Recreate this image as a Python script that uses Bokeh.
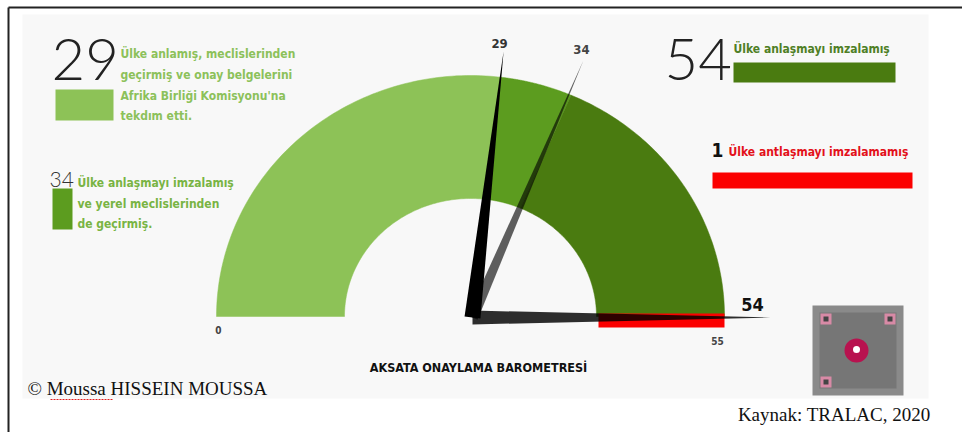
import numpy as np
from bokeh.plotting import figure
from bokeh.models import Range1d
from bokeh.core.properties import value
from bokeh.embed import file_html
from bokeh.resources import INLINE

# ---------------- data ----------------
total_countries = 55
segment_names = ["Onaylayıp belgelerini sunan", "Meclisten geçiren", "İmzalayan", "İmzalamayan"]
segment_start = [0, 29, 34, 54]
segment_end = [29, 34, 54, 55]
needle_values = [29, 34, 54]
needle_labels = ["29", "34", "54"]
scale_values = [0, 55]
scale_labels = ["0", "55"]
legend_counts = ["29", "34", "54", "1"]
legend_text_29 = ["Ülke anlamış, meclislerinden", "geçirmiş ve onay belgelerini",
                  "Afrika Birliği Komisyonu'na", "tekdım etti."]
legend_text_34 = ["Ülke anlaşmayı imzalamış", "ve yerel meclislerinden", "de geçirmiş."]
legend_text_54 = ["Ülke anlaşmayı imzalamış"]
legend_text_1 = ["Ülke antlaşmayı imzalamamış"]
title_text = "AKSATA ONAYLAMA BAROMETRESİ"
author_text = "© Moussa HISSEIN MOUSSA"
source_text = "Kaynak: TRALAC, 2020"

# ---------------- style ----------------
C_LIGHT = "#8dc257"
C_MED = "#5c9c1f"
C_DARK = "#4a7b10"
C_RED = "#fb0000"
seg_colors = [C_LIGHT, C_MED, C_DARK, C_RED]
NARROW = value("DejaVu Sans Condensed")
SERIF = value("Liberation Serif")
BIG = value("Lato Light")

W, H = 962, 432
p = figure(width=W, height=H, output_backend="svg", toolbar_location=None,
           x_range=Range1d(0, W), y_range=Range1d(H, 0),
           min_border=0, background_fill_color="white", border_fill_color="white")
p.axis.visible = False
p.grid.visible = False
p.outline_line_color = None

# page frame + panel
p.quad(left=[22], right=[928], top=[14], bottom=[398], fill_color="#f8f8f8", line_color=None)
p.segment(x0=[8], y0=[7], x1=[W], y1=[7], line_color="#222222", line_width=2)
p.segment(x0=[8], y0=[7], x1=[8], y1=[H], line_color="#222222", line_width=2)

# ---------------- gauge ----------------
cx, cy = 470, 316
rx_out, ry_out, rx_in, ry_in = 254, 241, 126, 118
gauge_full = segment_end[2]


def theta(v):
    return np.pi * (1 - v / gauge_full)


xs, ys = [], []
for a, b in zip(segment_start[:3], segment_end[:3]):
    t = np.linspace(theta(a), theta(b), 90)
    xo = cx + rx_out * np.cos(t)
    yo = cy - ry_out * np.sin(t)
    xi = cx + rx_in * np.cos(t[::-1])
    yi = cy - ry_in * np.sin(t[::-1])
    xs.append(list(np.concatenate([xo, xi])))
    ys.append(list(np.concatenate([yo, yi])))
p.patches(xs, ys, fill_color=seg_colors[:3], line_color=seg_colors[:3], line_width=0.5)

# not-signed segment (below the baseline)
red_h = 14 * (segment_end[3] - segment_start[3])
p.quad(left=[cx + rx_in + 2], right=[cx + rx_out], top=[cy - 3], bottom=[cy - 3 + red_h],
       fill_color=C_RED, line_color=None)

# scale labels
p.text(x=[cx - rx_out + 2, cx + rx_out - 7], y=[329, 340], text=scale_labels,
       text_font=NARROW, text_font_style="bold", text_font_size="10px",
       text_color="#444444", text_align="center", text_baseline="middle")

# needles
px, py = 472, 317
needle_len = [268, 280, 298]
needle_w = [16, 11, 14]
needle_alpha = [1.0, 0.62, 0.82]
label_off = [(-4, -8), (-2, -11), (-18, -13)]
label_size = ["13px", "13px", "18px"]
label_color = ["#333333", "#444444", "#111111"]
nxs, nys, lx, ly = [], [], [], []
for v, L, w, (dx, dy) in zip(needle_values, needle_len, needle_w, label_off):
    t = theta(v)
    ux, uy = np.cos(t), -np.sin(t)
    nx, ny = -uy, ux
    tipx, tipy = px + L * ux, py + L * uy
    nxs.append([px + nx * w / 2, tipx, px - nx * w / 2])
    nys.append([py + ny * w / 2, tipy, py - ny * w / 2])
    lx.append(tipx + dx)
    ly.append(tipy + dy)
p.patches(nxs, nys, fill_color="black", fill_alpha=needle_alpha, line_color=None)
for i in range(3):
    p.text(x=[lx[i]], y=[ly[i]], text=[needle_labels[i]], text_font=NARROW,
           text_font_style="bold", text_font_size=label_size[i], text_color=label_color[i],
           text_align="center", text_baseline="middle")

# title
p.text(x=[478], y=[367], text=[title_text], text_font=NARROW, text_font_style="bold",
       text_font_size="12.5px", text_color="#111111", text_align="center", text_baseline="middle")

# ---------------- legends ----------------
# 29
p.text(x=[51], y=[59], text=[legend_counts[0]], text_font=BIG, text_font_size="58px",
       text_color="#222222", text_align="left", text_baseline="middle")
p.quad(left=[55], right=[113], top=[89], bottom=[120], fill_color=C_LIGHT, line_color=None)
p.text(x=[120] * 4, y=[53, 74, 95, 115], text=legend_text_29, text_font=NARROW,
       text_font_style="bold", text_font_size="12px", text_color="#8cc15a",
       text_align="left", text_baseline="middle")
# 34
p.text(x=[49], y=[179], text=[legend_counts[1]], text_font=BIG, text_font_size="21px",
       text_color="#333333", text_align="left", text_baseline="middle")
p.quad(left=[52], right=[72], top=[188], bottom=[229], fill_color=C_MED, line_color=None)
p.text(x=[77] * 3, y=[182, 203, 223], text=legend_text_34, text_font=NARROW,
       text_font_style="bold", text_font_size="12px", text_color="#78b443",
       text_align="left", text_baseline="middle")
# 54
p.text(x=[664], y=[59], text=[legend_counts[2]], text_font=BIG, text_font_size="58px",
       text_color="#222222", text_align="left", text_baseline="middle")
p.quad(left=[733], right=[895], top=[62], bottom=[82], fill_color=C_DARK, line_color=None)
p.text(x=[733], y=[48], text=legend_text_54, text_font=NARROW, text_font_style="bold",
       text_font_size="12px", text_color="#4f7f25", text_align="left", text_baseline="middle")
# 1
p.text(x=[711], y=[149], text=[legend_counts[3]], text_font=NARROW, text_font_style="bold",
       text_font_size="19px", text_color="#111111", text_align="left", text_baseline="middle")
p.quad(left=[712], right=[912], top=[172], bottom=[188], fill_color=C_RED, line_color=None)
p.text(x=[728], y=[151], text=legend_text_1, text_font=NARROW, text_font_style="bold",
       text_font_size="12px", text_color="#e3101a", text_align="left", text_baseline="middle")

# ---------------- QR code block ----------------
p.quad(left=[812], right=[903], top=[305], bottom=[395], fill_color="#8a8a8a", line_color=None)
p.quad(left=[819], right=[896], top=[312], bottom=[388], fill_color="#767676", line_color=None)
p.quad(left=[820, 884, 820], right=[831, 895, 831], top=[313, 313, 376], bottom=[324, 324, 387],
       fill_color="#d88aa6", line_color=None)
p.quad(left=[823, 887, 823], right=[828, 892, 828], top=[316, 316, 379], bottom=[321, 321, 384],
       fill_color="#444444", line_color=None)
p.scatter(x=[856], y=[350], size=24, marker="circle", fill_color="#b8124f", line_color=None)
p.scatter(x=[856], y=[349], size=7, marker="circle", fill_color="white", line_color=None)

# ---------------- credits ----------------
p.text(x=[27], y=[388], text=[author_text], text_font=SERIF, text_font_size="19px",
       text_color="#111111", text_align="left", text_baseline="middle")
p.segment(x0=[50], y0=[399], x1=[113], y1=[399], line_color="#e02020", line_width=1,
          line_dash="2 1")
p.text(x=[930], y=[414], text=[source_text], text_font=SERIF, text_font_size="19px",
       text_color="#111111", text_align="right", text_baseline="middle")

open("out.html", "w").write(file_html(p, INLINE))
